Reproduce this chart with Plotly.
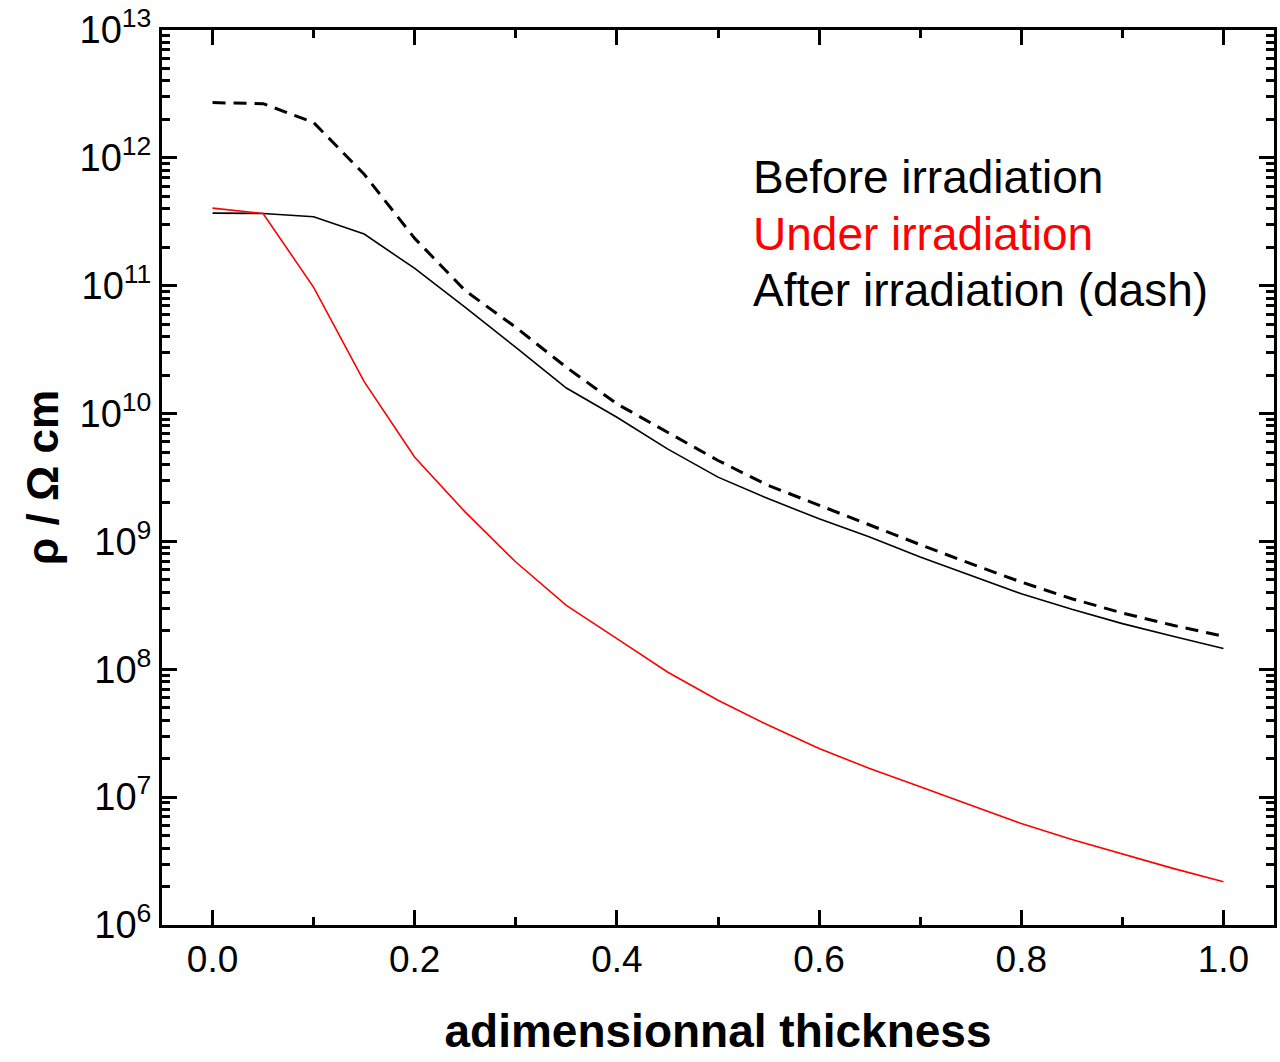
import plotly.graph_objects as go

thickness = [0.0, 0.05, 0.1, 0.15, 0.2, 0.25, 0.3, 0.35, 0.4, 0.45, 0.5,
             0.55, 0.6, 0.65, 0.7, 0.75, 0.8, 0.85, 0.9, 0.95, 1.0]

log_before = [11.568, 11.565, 11.539, 11.404, 11.135, 10.831, 10.518, 10.20, 9.971, 9.724, 9.503,
              9.333, 9.177, 9.034, 8.878, 8.734, 8.591, 8.469, 8.357, 8.258, 8.162]
log_under = [11.607, 11.565, 10.987, 10.25, 9.659, 9.229, 8.839, 8.50, 8.240, 7.979, 7.758,
             7.562, 7.380, 7.224, 7.081, 6.937, 6.794, 6.669, 6.555, 6.443, 6.339]
log_after = [12.432, 12.424, 12.276, 11.872, 11.37, 10.961, 10.674, 10.362, 10.076, 9.854, 9.633,
             9.437, 9.281, 9.125, 8.975, 8.826, 8.682, 8.552, 8.440, 8.344, 8.258]

rho_before = [10 ** v for v in log_before]
rho_under = [10 ** v for v in log_under]
rho_after = [10 ** v for v in log_after]

y_tickvals = [1e6, 1e7, 1e8, 1e9, 1e10, 1e11, 1e12, 1e13]
y_ticktext = ["10<sup>6</sup>", "10<sup>7</sup>", "10<sup>8</sup>", "10<sup>9</sup>",
              "10<sup>10</sup>", "10<sup>11</sup>", "10<sup>12</sup>", "10<sup>13</sup>"]
x_tickvals = [0.0, 0.2, 0.4, 0.6, 0.8, 1.0]
x_ticktext = ["0.0", "0.2", "0.4", "0.6", "0.8", "1.0"]

labels = ["Before irradiation", "Under irradiation", "After irradiation (dash)"]
label_colors = ["black", "#ff0000", "black"]

FONT = "Arial, 'Liberation Sans', sans-serif"

fig = go.Figure()
fig.add_trace(go.Scatter(x=thickness, y=rho_before, mode="lines",
                         line=dict(color="black", width=1.6), name=labels[0]))
fig.add_trace(go.Scatter(x=thickness, y=rho_under, mode="lines",
                         line=dict(color="#ff0000", width=1.6), name=labels[1]))
fig.add_trace(go.Scatter(x=thickness, y=rho_after, mode="lines",
                         line=dict(color="black", width=3, dash="13px,8px"), name=labels[2]))

ann_y = [0.836, 0.772, 0.709]
for txt, col, yy in zip(labels, label_colors, ann_y):
    fig.add_annotation(text=txt, xref="paper", yref="paper", x=0.530, y=yy,
                       xanchor="left", yanchor="middle", showarrow=False,
                       font=dict(family=FONT, size=46, color=col))

fig.update_layout(
    width=1280, height=1062,
    margin=dict(l=162, r=3, t=29, b=137),
    paper_bgcolor="white", plot_bgcolor="white",
    showlegend=False,
    font=dict(family=FONT, color="black"),
)

fig.update_xaxes(
    range=[-0.05, 1.05],
    tickvals=x_tickvals, ticktext=x_ticktext,
    ticks="inside", ticklen=15, tickwidth=3, tickcolor="black",
    minor=dict(ticks="inside", ticklen=8, tickwidth=3, tickcolor="black", dtick=0.1, tick0=0),
    showline=True, linewidth=3, linecolor="black", mirror="ticks",
    showgrid=False, zeroline=False,
    tickfont=dict(family=FONT, size=37, color="black"),
    title=dict(text="<b>adimensionnal thickness</b>", font=dict(family=FONT, size=46, color="black"),
               standoff=36),
)

fig.update_yaxes(
    type="log", range=[6, 13],
    tickvals=y_tickvals, ticktext=y_ticktext,
    ticks="inside", ticklen=15, tickwidth=3, tickcolor="black",
    minor=dict(ticks="inside", ticklen=8, tickwidth=3, tickcolor="black", dtick="D1"),
    showline=True, linewidth=3, linecolor="black", mirror="ticks",
    showgrid=False, zeroline=False,
    tickfont=dict(family=FONT, size=38, color="black"),
    title=dict(text="<b>ρ / Ω cm</b>", font=dict(family=FONT, size=44, color="black"),
               standoff=8),
)

fig.write_html("out.html")
